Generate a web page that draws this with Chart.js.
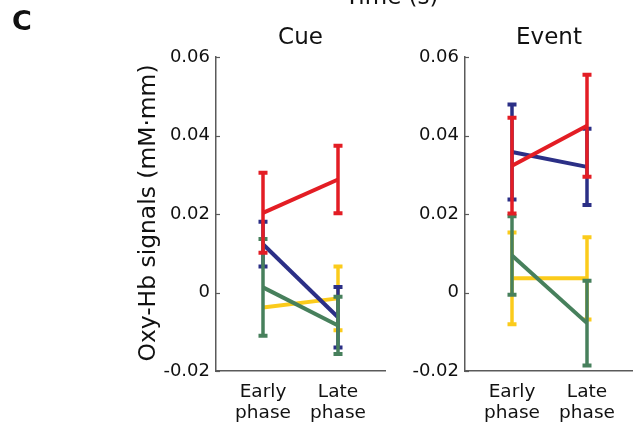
<!DOCTYPE html>
<html>
<head>
<meta charset="utf-8">
<script src="https://cdn.jsdelivr.net/npm/chart.js@4.4.1/dist/chart.umd.min.js"></script>
<style>
html,body{margin:0;padding:0;background:#fff;}
#wrap{position:relative;width:633px;height:427px;overflow:hidden;background:#fff;}
#wrap canvas{position:absolute;left:0;top:0;}
</style>
</head>
<body>
<div id="wrap">
  <canvas id="ch-cue" width="633" height="427"></canvas>
  <canvas id="ch-event" width="633" height="427"></canvas>
</div>
<script>
/* ---------- data ---------- */
const phaseX=[1,2];
const phaseLabels=[['Early','phase'],['Late','phase']];
const yTicks=[-0.02,0,0.02,0.04,0.06];

// Cue panel: means and error half-widths
const cueRed=[0.0203,0.0288],      cueRedErr=[0.0102,0.0086];
const cueBlue=[0.0123,-0.0063],    cueBlueErr=[0.0057,0.0077];
const cueGreen=[0.0013,-0.0084],   cueGreenErr=[0.0123,0.0073];
const cueYellow=[-0.0038,-0.0015], cueYellowErr=[0,0.0081];

// Event panel
const evRed=[0.0323,0.0425],       evRedErr=[0.0122,0.0130];
const evBlue=[0.0358,0.0320],      evBlueErr=[0.0121,0.0097];
const evGreen=[0.0094,-0.0078],    evGreenErr=[0.0100,0.0108];
const evYellow=[0.0036,0.0036],    evYellowErr=[0.0117,0.0105];

/* ---------- style ---------- */
const FONT="'DejaVu Sans', sans-serif";
const AXIS='#5a5a5a';
const TXT='#111';
const COL={red:'#e31d24',blue:'#2b2f86',green:'#47805c',yellow:'#fbcb1b'};
const Y_W=60, X_H=56;

/* error bars drawn right after each dataset so the stacking follows the lines */
const errorBars={
  id:'errorBars',
  afterDatasetDraw(chart,args){
    const ds=chart.data.datasets[args.index];
    if(!ds.errors)return;
    const ys=chart.scales.y,ctx=chart.ctx;
    ctx.save();
    ctx.strokeStyle=ds.borderColor;
    ctx.lineCap='butt';
    args.meta.data.forEach((pt,i)=>{
      const e=ds.errors[i];if(!e)return;
      const v=ds.data[i].y;
      const t=ys.getPixelForValue(v+e),b=ys.getPixelForValue(v-e);
      ctx.lineWidth=3.5;
      ctx.beginPath();ctx.moveTo(pt.x,t);ctx.lineTo(pt.x,b);ctx.stroke();
      ctx.lineWidth=4;
      ctx.beginPath();
      ctx.moveTo(pt.x-4.5,t);ctx.lineTo(pt.x+4.5,t);
      ctx.moveTo(pt.x-4.5,b);ctx.lineTo(pt.x+4.5,b);
      ctx.stroke();
    });
    ctx.restore();
  }
};

/* panel titles, extra labels, small inward y ticks */
const panelText={
  id:'panelText',
  afterDraw(chart,args,opts){
    const ctx=chart.ctx,ca=chart.chartArea;
    ctx.save();
    ctx.fillStyle=TXT;
    ctx.textBaseline='alphabetic';
    ctx.font=`23px ${FONT}`;
    ctx.textAlign='center';
    ctx.fillText(opts.title,(ca.left+ca.right)/2,44);
    (opts.extra||[]).forEach(it=>{
      ctx.save();
      ctx.font=it.font;
      ctx.textAlign=it.align||'left';
      ctx.translate(it.x,it.y);
      if(it.rot)ctx.rotate(it.rot);
      ctx.fillText(it.text,0,0);
      ctx.restore();
    });
    const ys=chart.scales.y;
    ctx.strokeStyle=AXIS;ctx.lineWidth=1.2;
    yTicks.forEach(v=>{
      const y=Math.round(ys.getPixelForValue(v))+0.5;
      ctx.beginPath();ctx.moveTo(ca.left,y);ctx.lineTo(ca.left+4,y);ctx.stroke();
    });
    ctx.restore();
  }
};

function series(vals,errs,color,order){
  return{
    data:phaseX.map((x,i)=>({x:x,y:vals[i]})),
    errors:errs,
    borderColor:color,
    backgroundColor:color,
    borderWidth:4,
    pointRadius:0,
    tension:0,
    fill:false,
    order:order
  };
}

function panelOptions(padLeft,padRight,xMin,xMax,title,extra){
  return{
    responsive:false,
    animation:false,
    devicePixelRatio:1,
    layout:{padding:{left:padLeft,right:padRight,top:57,bottom:0}},
    plugins:{legend:{display:false},tooltip:{enabled:false},panelText:{title:title,extra:extra}},
    scales:{
      x:{
        type:'linear',min:xMin,max:xMax,
        afterBuildTicks:s=>{s.ticks=phaseX.map(v=>({value:v}));},
        afterFit:s=>{s.height=X_H;},
        grid:{display:true,drawOnChartArea:false,drawTicks:false},
        border:{display:true,color:AXIS,width:1.5},
        ticks:{padding:11,color:TXT,maxRotation:0,autoSkip:false,font:{family:FONT,size:18.5,lineHeight:1.13},
          callback:v=>phaseLabels[phaseX.indexOf(v)]}
      },
      y:{
        type:'linear',min:-0.02,max:0.06,
        afterBuildTicks:s=>{s.ticks=yTicks.map(v=>({value:v}));},
        afterFit:s=>{s.width=Y_W;},
        grid:{display:true,drawOnChartArea:false,drawTicks:false},
        border:{display:true,color:AXIS,width:1.5},
        ticks:{padding:6,color:TXT,font:{family:FONT,size:18},
          callback:v=>Math.abs(v)<1e-9?'0':v.toFixed(2)}
      }
    }
  };
}

new Chart(document.getElementById('ch-cue'),{
  type:'line',
  data:{datasets:[
    series(cueRed,cueRedErr,COL.red,1),
    series(cueGreen,cueGreenErr,COL.green,2),
    series(cueBlue,cueBlueErr,COL.blue,3),
    series(cueYellow,cueYellowErr,COL.yellow,4)
  ]},
  options:panelOptions(216-Y_W,633-385,1-47/75,2+47/75,'Cue',[
    {text:'C',x:12,y:30,font:`bold 27px ${FONT}`},
    {text:'Time (s)',x:345,y:4,font:`23px ${FONT}`},
    {text:'Oxy-Hb signals (mM\u00B7mm)',x:155,y:213,rot:-Math.PI/2,align:'center',font:`23.4px ${FONT}`}
  ]),
  plugins:[errorBars,panelText]
});

new Chart(document.getElementById('ch-event'),{
  type:'line',
  data:{datasets:[
    series(evRed,evRedErr,COL.red,1),
    series(evGreen,evGreenErr,COL.green,2),
    series(evBlue,evBlueErr,COL.blue,3),
    series(evYellow,evYellowErr,COL.yellow,4)
  ]},
  options:panelOptions(465-Y_W,0,1-47/75,2+46/75,'Event',[]),
  plugins:[errorBars,panelText]
});
</script>
</body>
</html>
